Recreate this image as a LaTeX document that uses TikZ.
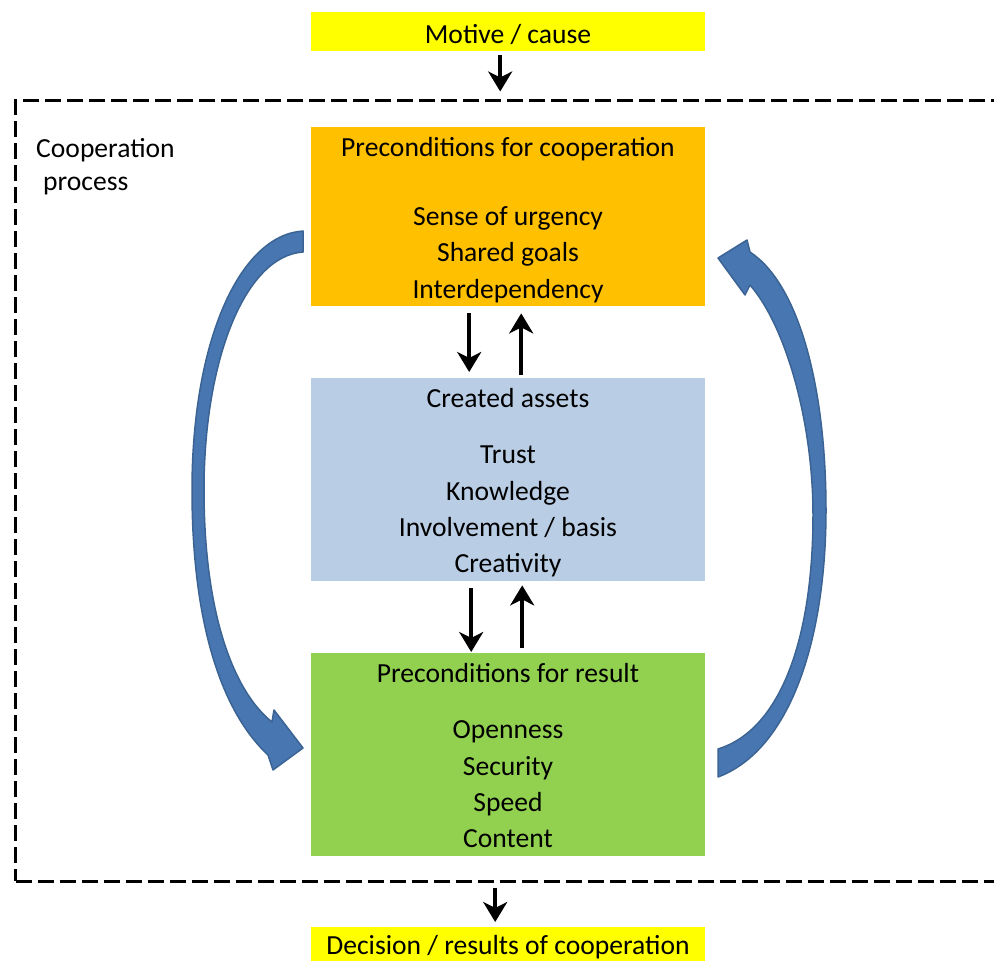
\documentclass[tikz,border=0pt]{standalone}
\usepackage{fontspec}
\setmainfont{Carlito}
\usetikzlibrary{arrows.meta}

\definecolor{yellowbox}{HTML}{FFFF00}
\definecolor{orangebox}{HTML}{FFC000}
\definecolor{bluebox}{HTML}{B9CDE5}
\definecolor{greenbox}{HTML}{92D050}
\definecolor{arrowblue}{HTML}{4876B0}
\definecolor{arrowedge}{HTML}{3B6494}

\begin{document}
\begin{tikzpicture}[x=1pt,y=-1pt,
  box/.style={rectangle, inner sep=0, minimum width=394, minimum height=#1, anchor=north west},
  lbl/.style={anchor=base, inner sep=0, font=\fontsize{27.6}{33}\selectfont},
  flow/.style={line width=4.5, black, -{Stealth[length=20,width=24,inset=6]}},
  looparrow/.style={fill=arrowblue, draw=arrowedge, line width=1.5, line join=round},
]
\useasboundingbox (0,0) rectangle (994,961);
\clip (0,0) rectangle (994,961);

% dashed frame of the cooperation process (right side runs off the page)
\node[rectangle, draw, line width=3.3, dash pattern=on 16 off 6, inner sep=0,
      minimum width=996, minimum height=781, anchor=north west] (frame) at (14,98.5) {};
\node[anchor=north west, align=left, inner sep=0, font=\fontsize{27.6}{33}\selectfont]
      (coop) at (36,138) {Cooperation\\\hspace{7pt}process};

% boxes
\node[box=39,  fill=yellowbox] (motive)   at (311,12)  {};
\node[box=179, fill=orangebox] (pre)      at (311,127) {};
\node[box=203, fill=bluebox]   (assets)   at (311,378) {};
\node[box=203, fill=greenbox]  (result)   at (311,653) {};
\node[box=45,  fill=yellowbox] (decision) at (311,927) {};

% texts
\node[lbl] (tmotive) at (508,43) {Motive / cause};

\node[lbl] (tpre)  at (508,156) {Preconditions for cooperation};
\node[lbl] (tpre1) at (508,225) {Sense of urgency};
\node[lbl] (tpre2) at (508,261) {Shared goals};
\node[lbl] (tpre3) at (508,298) {Interdependency};

\node[lbl] (tass)  at (508,407) {Created assets};
\node[lbl] (tass1) at (508,463) {Trust};
\node[lbl] (tass2) at (508,500) {Knowledge};
\node[lbl] (tass3) at (508,536) {Involvement / basis};
\node[lbl] (tass4) at (508,572) {Creativity};

\node[lbl] (tres)  at (508,682) {Preconditions for result};
\node[lbl] (tres1) at (508,738) {Openness};
\node[lbl] (tres2) at (508,775) {Security};
\node[lbl] (tres3) at (508,811) {Speed};
\node[lbl] (tres4) at (508,847) {Content};

\node[lbl] (tdec) at (508,954) {Decision / results of cooperation};

% straight flow arrows
\draw[flow, shorten <=4, shorten >=7]
  ([xshift=-8]motive.south) -- ([xshift=-8]motive.south |- frame.north);
\draw[flow, shorten <=7, shorten >=6]
  ([xshift=-39]pre.south) -- ([xshift=-39]assets.north);
\draw[flow, shorten <=3, shorten >=7]
  ([xshift=13]assets.north) -- ([xshift=13]pre.south);
\draw[flow, shorten <=7, shorten >=1]
  ([xshift=-37]assets.south) -- ([xshift=-37]result.north);
\draw[flow, shorten <=5, shorten >=4]
  ([xshift=14]result.north) -- ([xshift=14]assets.south);
\draw[flow, shorten <=5, shorten >=5]
  ([xshift=-13]decision.north |- frame.south) -- ([xshift=-13]decision.north);

% curved arrow on the left: from the preconditions down to the result
\path[looparrow]
  (303,231) .. controls (240,235) and (192,340) .. (192,490)
            .. controls (192,620) and (220,710) .. (268,755)
  -- (273,770) -- (303,748) -- (274,710) -- (272,722)
            .. controls (232,690) and (204,610) .. (204,490)
            .. controls (204,360) and (245,256) .. (303,252)
  -- cycle;

% curved arrow on the right: from the result back up to the preconditions
\path[looparrow]
  (718,749) .. controls (780,730) and (813,640) .. (813,515)
            .. controls (813,420) and (785,325) .. (750,285)
  -- (745,295) -- (718,258) -- (747,240) -- (750,252)
            .. controls (800,285) and (826,390) .. (826,510)
            .. controls (826,640) and (790,750) .. (718,777)
  -- cycle;
\end{tikzpicture}
\end{document}
